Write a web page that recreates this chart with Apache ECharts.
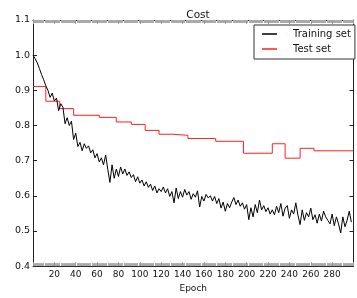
<!DOCTYPE html>
<html>
<head>
<meta charset="utf-8">
<script src="https://cdn.jsdelivr.net/npm/echarts@6/dist/echarts.min.js"></script>
<style>
html,body{margin:0;padding:0;background:#fff;}
#chart{width:357px;height:298px;}
</style>
</head>
<body>
<div id="chart"></div>
<script>
// ---- data ----
const titleText = "Cost";
const xAxisName = "Epoch";
const seriesNames = ["Training set", "Test set"];
const xTicks = [20, 40, 60, 80, 100, 120, 140, 160, 180, 200, 220, 240, 260, 280];
const yTicks = [0.4, 0.5, 0.6, 0.7, 0.8, 0.9, 1.0, 1.1];

// training cost sampled every 2 epochs (epochs 0,2,...,298)
const trainStep = 2;
const trainCost = [
  1.000, 0.990, 0.978, 0.962, 0.945, 0.930, 0.913, 0.900, 0.880, 0.892,
  0.870, 0.878, 0.842, 0.862, 0.852, 0.805, 0.822, 0.800, 0.812, 0.760,
  0.778, 0.740, 0.752, 0.728, 0.748, 0.735, 0.742, 0.722, 0.731, 0.708,
  0.720, 0.696, 0.708, 0.688, 0.716, 0.675, 0.638, 0.688, 0.650, 0.676,
  0.655, 0.682, 0.662, 0.676, 0.658, 0.668, 0.652, 0.660, 0.640, 0.654,
  0.636, 0.645, 0.628, 0.640, 0.624, 0.633, 0.615, 0.628, 0.608, 0.620,
  0.612, 0.625, 0.608, 0.620, 0.598, 0.612, 0.580, 0.622, 0.592, 0.612,
  0.596, 0.618, 0.602, 0.612, 0.590, 0.606, 0.596, 0.614, 0.568, 0.598,
  0.585, 0.604, 0.594, 0.600, 0.585, 0.598, 0.578, 0.592, 0.565, 0.582,
  0.556, 0.578, 0.566, 0.582, 0.595, 0.575, 0.588, 0.570, 0.580, 0.562,
  0.575, 0.532, 0.566, 0.540, 0.575, 0.552, 0.588, 0.560, 0.572, 0.555,
  0.566, 0.548, 0.560, 0.546, 0.570, 0.552, 0.578, 0.542, 0.565, 0.572,
  0.536, 0.560, 0.548, 0.580, 0.545, 0.518, 0.560, 0.530, 0.552, 0.540,
  0.565, 0.532, 0.546, 0.522, 0.548, 0.528, 0.556, 0.540, 0.530, 0.520,
  0.548, 0.515, 0.540, 0.520, 0.494, 0.540, 0.512, 0.530, 0.556, 0.525
];

// test cost: step changes (epoch where a new value starts)
const testEpochs = [0, 12, 25, 38, 62, 78, 92, 105, 118, 131, 145, 171, 197, 224, 236, 250, 263, 300];
const testCost   = [0.911, 0.869, 0.848, 0.829, 0.823, 0.810, 0.803, 0.786, 0.775, 0.772, 0.763, 0.755, 0.721, 0.748, 0.707, 0.735, 0.728, 0.727];

// ---- chart ----
const FONT = "DejaVu Sans";
const chart = echarts.init(document.getElementById('chart'), null, {renderer: 'canvas'});

const xMin = 0, xMax = 300, xInterval = 20;
const yMin = 0.4, yMax = 1.1, yInterval = 0.1;

function xLabel(v) { return xTicks.indexOf(Math.round(v)) >= 0 ? String(Math.round(v)) : ''; }
function yLabel(v) {
  const r = Math.round(v * 10) / 10;
  return yTicks.some(t => Math.abs(t - r) < 1e-6) ? r.toFixed(1) : '';
}

const spine = {show: true, onZero: false, lineStyle: {color: '#222', width: 1}};
const xTickStyle = {show: true, inside: true, length: 4, lineStyle: {color: '#999', width: 1}};
const xMinor = {show: true, splitNumber: 20, length: 3, lineStyle: {color: '#aaa', width: 1}};
const yTickStyle = {show: true, inside: true, length: 4, lineStyle: {color: '#222', width: 1}};

const legendIcon = 'path://M0 0 H15 V1.4 H0 Z M25.95 0 H26 V1.4 H25.95 Z';

chart.setOption({
  animation: false,
  backgroundColor: '#fff',
  title: {
    text: titleText,
    left: 193,
    top: 5,
    textAlign: 'center',
    textStyle: {fontFamily: FONT, fontSize: 10.5, fontWeight: 'normal', color: '#111'}
  },
  grid: {left: 33, right: 3.5, top: 20, bottom: 29, containLabel: false},
  legend: {
    orient: 'vertical',
    left: 254,
    top: 25,
    width: 99,
    padding: [3, 4, 4, 8],
    itemGap: 3,
    itemWidth: 26,
    itemHeight: 1.4,
    icon: legendIcon,
    backgroundColor: '#fff',
    borderColor: '#333',
    borderWidth: 1,
    borderRadius: 0,
    textStyle: {fontFamily: FONT, fontSize: 10, color: '#111', lineHeight: 12},
    data: seriesNames
  },
  xAxis: [
    {
      type: 'value', min: xMin, max: xMax, interval: xInterval, position: 'bottom',
      name: xAxisName, nameLocation: 'middle', nameGap: 15,
      nameTextStyle: {fontFamily: FONT, fontSize: 9, color: '#111'},
      axisLine: spine, axisTick: xTickStyle, minorTick: xMinor,
      splitLine: {show: false},
      axisLabel: {formatter: xLabel, margin: 4, fontFamily: FONT, fontSize: 9, color: '#111'}
    },
    {
      type: 'value', min: xMin, max: xMax, interval: xInterval, position: 'top',
      axisLine: spine, axisTick: xTickStyle, minorTick: xMinor,
      splitLine: {show: false}, axisLabel: {show: false}
    }
  ],
  yAxis: [
    {
      type: 'value', min: yMin, max: yMax, interval: yInterval, position: 'left',
      axisLine: spine, axisTick: yTickStyle, splitLine: {show: false},
      axisLabel: {formatter: yLabel, margin: 3, fontFamily: FONT, fontSize: 9.5, color: '#111'}
    },
    {
      type: 'value', min: yMin, max: yMax, interval: yInterval, position: 'right',
      axisLine: spine, axisTick: yTickStyle, splitLine: {show: false},
      axisLabel: {show: false}
    }
  ],
  series: [
    {
      name: seriesNames[0], type: 'line', xAxisIndex: 0, yAxisIndex: 0,
      showSymbol: false, symbol: 'none',
      color: '#000',
      lineStyle: {color: '#000', width: 1},
      data: trainCost.map((v, i) => [i * trainStep, v]),
      z: 3
    },
    {
      name: seriesNames[1], type: 'line', xAxisIndex: 0, yAxisIndex: 0,
      showSymbol: false, symbol: 'none', step: 'end',
      color: '#ff2020',
      lineStyle: {color: '#ff2020', width: 1},
      data: testEpochs.map((e, i) => [e, testCost[i]]),
      z: 2
    }
  ]
});
</script>
</body>
</html>
